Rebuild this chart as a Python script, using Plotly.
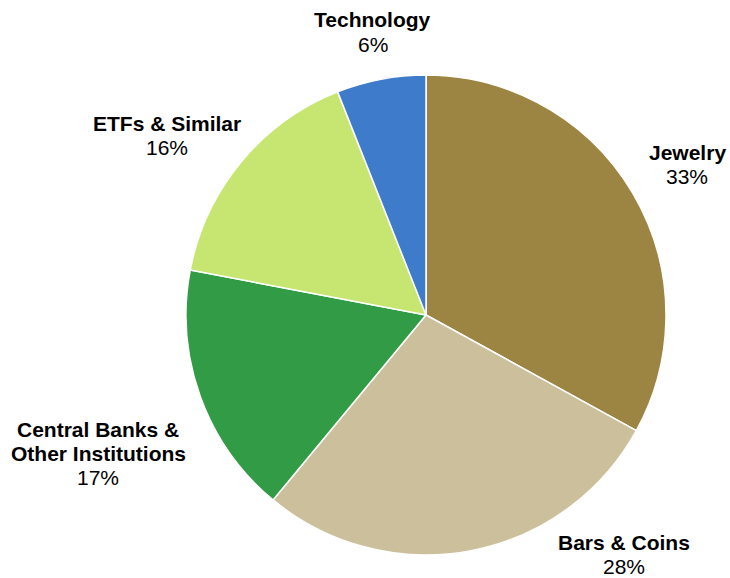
import plotly.graph_objects as go

# Gold demand by sector (share of total, %)
sectors = ["Jewelry", "Bars & Coins", "Central Banks & Other Institutions", "ETFs & Similar", "Technology"]
shares = [33, 28, 17, 16, 6]
label_lines = [["Jewelry"], ["Bars & Coins"], ["Central Banks &", "Other Institutions"], ["ETFs & Similar"], ["Technology"]]
colors = ["#9C8442", "#CBBF9C", "#319C45", "#C7E671", "#3E7BCB"]

# Label placement (pixel centre of the first text line)
label_pos = [(687, 153), (624, 542), (98, 429), (167, 124), (373, 20)]

W, H = 730, 578
cx, cy, r = 426, 315, 240
LINE = 24

fig = go.Figure(go.Pie(
    labels=sectors,
    values=shares,
    sort=False,
    direction="clockwise",
    rotation=0,
    textinfo="none",
    hoverinfo="label+percent",
    marker=dict(colors=colors, line=dict(color="white", width=1.5)),
    domain=dict(x=[(cx - r) / W, (cx + r) / W], y=[(H - cy - r) / H, (H - cy + r) / H]),
    showlegend=False,
))

font_name = "Liberation Sans, Arial, sans-serif"
annotations = []
for lines, val, (px, py) in zip(label_lines, shares, label_pos):
    texts = [f"<b>{t}</b>" for t in lines] + [f"{val}%"]
    for i, t in enumerate(texts):
        yy = py + i * LINE
        annotations.append(dict(
            x=px / W, y=1 - yy / H, xref="paper", yref="paper",
            text=t, showarrow=False, xanchor="center", yanchor="middle",
            font=dict(family=font_name, size=21, color="#000000"),
        ))

fig.update_layout(
    width=W, height=H,
    margin=dict(l=0, r=0, t=0, b=0),
    paper_bgcolor="white", plot_bgcolor="white",
    annotations=annotations,
)

fig.write_html("out.html")
